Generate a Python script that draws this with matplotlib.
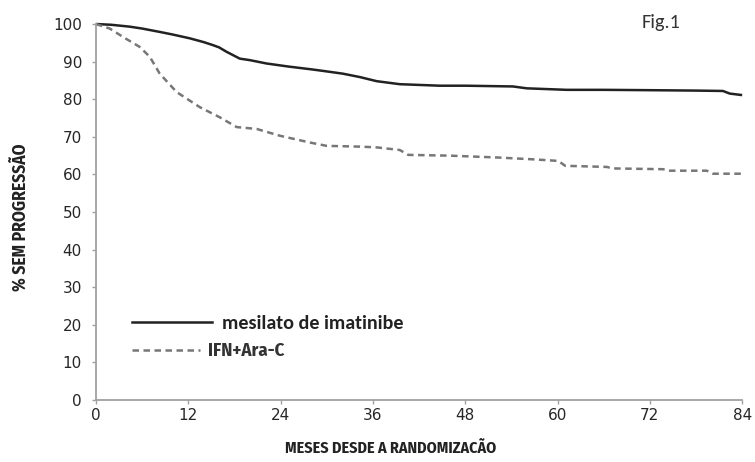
import matplotlib
matplotlib.use("Agg")
import matplotlib.pyplot as plt
from matplotlib.lines import Line2D

# Curvas de sobrevida livre de progressão
meses_imatinibe = [0, 2, 4.4, 6, 8.3, 10, 12.2, 14, 15.2, 16, 17, 18.7, 20, 22.2, 25,
                   28.2, 30, 32.1, 34.3, 36.5, 39.5, 44.7, 48, 54.2, 56, 61.2, 66,
                   72.4, 78, 81.5, 82.4, 84]
sp_imatinibe = [100, 99.8, 99.3, 98.8, 97.9, 97.2, 96.2, 95.2, 94.4, 93.8, 92.6, 90.8,
                90.4, 89.5, 88.7, 87.9, 87.4, 86.8, 85.9, 84.8, 84.0, 83.6, 83.6, 83.4,
                82.9, 82.5, 82.5, 82.4, 82.3, 82.2, 81.5, 81.1]

meses_ifn = [0, 1.8, 3.5, 5.7, 7.0, 8.3, 10.5, 13.5, 16.1, 18.3, 20.9, 23.9, 27.8, 30,
             34.3, 36.5, 39.5, 40.6, 46, 52.3, 57, 60.1, 61, 66.4, 67.2, 73.7, 74.6,
             79.4, 80.2, 84]
sp_ifn = [100, 98.8, 96.6, 93.9, 91.3, 86.8, 81.9, 77.9, 75.2, 72.6, 72.1, 70.3, 68.5,
          67.6, 67.4, 67.2, 66.5, 65.2, 65.0, 64.5, 64.0, 63.6, 62.3, 62.0, 61.6, 61.4,
          61.0, 61.0, 60.2, 60.2]

x_ticks = [0, 12, 24, 36, 48, 60, 72, 84]
x_tick_labels = ["0", "12", "24", "36", "48", "60", "72", "84"]
y_ticks = [0, 10, 20, 30, 40, 50, 60, 70, 80, 90, 100]

label_imatinibe = "mesilato de imatinibe"
label_ifn = "IFN+Ara-C"

narrow = {"family": ["Fira Sans Condensed", "DejaVu Sans"], "weight": "bold"}
calibri = ["Carlito", "Open Sans", "DejaVu Sans"]

fig = plt.figure(figsize=(7.55, 4.62), dpi=100)
ax = fig.add_axes([0.127, 0.134, 0.856, 0.814])

l1, = ax.plot(meses_imatinibe, sp_imatinibe, color="#222222", linewidth=1.8,
              solid_capstyle="butt", clip_on=False)
l2, = ax.plot(meses_ifn, sp_ifn, color="#777777", linewidth=1.8,
              dashes=(2.6, 1.8), clip_on=False)

ax.set_xlim(0, 84)
ax.set_ylim(0, 100)
ax.set_xticks(x_ticks)
ax.set_xticklabels(x_tick_labels)
ax.set_yticks(y_ticks)

for s in ["top", "right"]:
    ax.spines[s].set_visible(False)
for s in ["left", "bottom"]:
    ax.spines[s].set_color("#a0a0a0")
    ax.spines[s].set_linewidth(1.3)

ax.tick_params(axis="both", colors="#a0a0a0", labelcolor="#262626", length=3,
               width=1, labelsize=11)
ax.tick_params(axis="y", pad=7)
ax.tick_params(axis="x", pad=3)

# legenda em duas partes (fontes diferentes, como no original)
leg1 = ax.legend(handles=[Line2D([], [], color="#222222", linewidth=1.8)],
                 labels=[label_imatinibe], loc="center left",
                 bbox_to_anchor=(0.028, 0.203), frameon=False, handlelength=3.95,
                 handletextpad=0.5, prop={"family": calibri, "weight": "bold", "size": 14.5})
ax.add_artist(leg1)
for t in leg1.get_texts():
    t.set_color("#222222")

leg2 = ax.legend(handles=[Line2D([], [], color="#777777", linewidth=1.8, dashes=(2.6, 1.8))],
                 labels=[label_ifn], loc="center left",
                 bbox_to_anchor=(0.03, 0.13), frameon=False, handlelength=3.6,
                 handletextpad=0.45, prop={**narrow, "size": 13.5})
for t in leg2.get_texts():
    t.set_color("#333333")

fig.text(0.517, 0.012, "MESES DESDE A RANDOMIZACÃO", fontsize=11.5, color="#222222",
         ha="center", va="bottom", **narrow)
fig.text(0.027, 0.53, "% SEM PROGRESSÃO", fontsize=12.5, color="#222222",
         ha="center", va="center", rotation=90, **narrow)
fig.text(0.875, 0.952, "Fig.1", family=calibri, fontsize=14.5,
         color="#333333", ha="center", va="center")

fig.savefig("out.png", dpi=100)
